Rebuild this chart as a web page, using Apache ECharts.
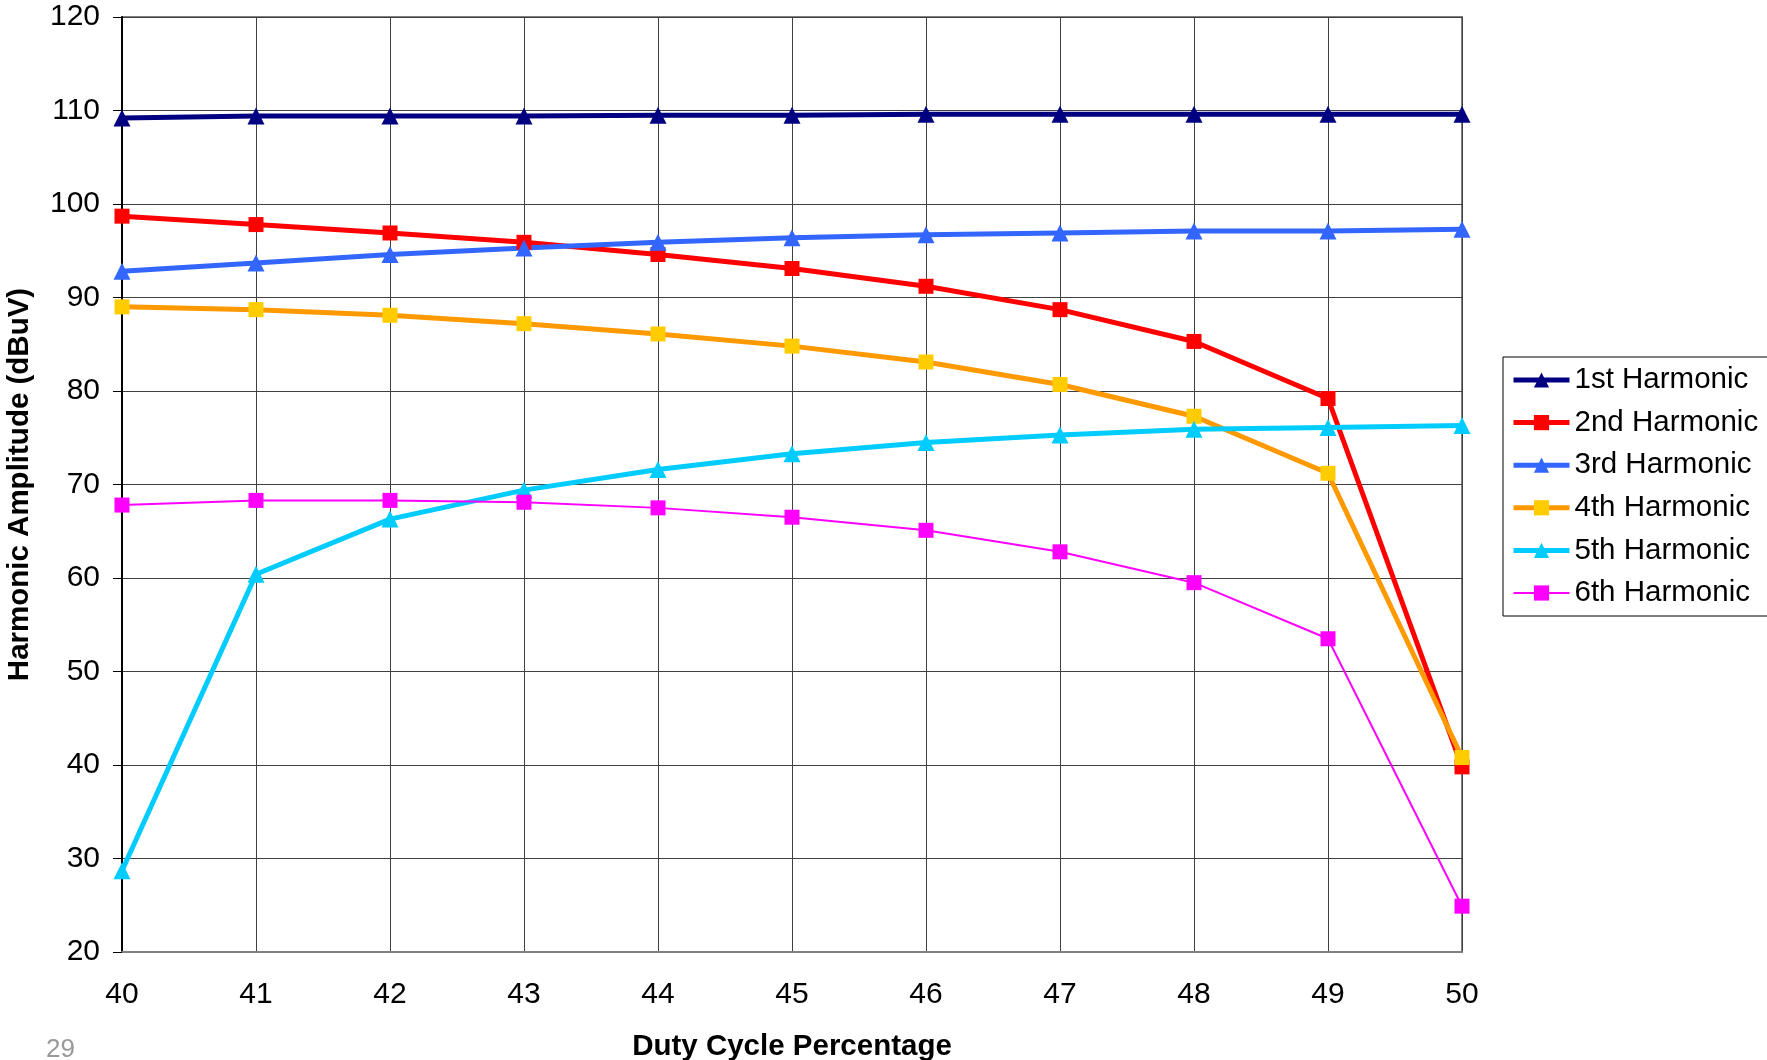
<!DOCTYPE html>
<html>
<head>
    <meta charset="utf-8">
    <title>Harmonic Amplitude vs Duty Cycle</title>
    <style type="text/css">
        html, body { margin: 0; padding: 0; background: #fff; }
        #page { width: 1767px; height: 1060px; }
    </style>
</head>
<body>
<div id="page"></div>
<script src="https://cdn.jsdelivr.net/npm/echarts@6/dist/echarts.min.js"></script>
<script>
    // duty cycle (x) and the six harmonic curves
    var dutyCycle = [40, 41, 42, 43, 44, 45, 46, 47, 48, 49, 50];
    var yTicks = [20, 30, 40, 50, 60, 70, 80, 90, 100, 110, 120];

    var harm1 = [109.2, 109.4, 109.4, 109.4, 109.5, 109.5, 109.6, 109.6, 109.6, 109.6, 109.6];
    var harm2 = [98.7, 97.8, 96.9, 95.9, 94.6, 93.1, 91.2, 88.7, 85.3, 79.2, 39.8];
    var harm3 = [92.8, 93.7, 94.6, 95.3, 95.9, 96.4, 96.7, 96.9, 97.1, 97.1, 97.3];
    var harm4 = [89.0, 88.7, 88.1, 87.2, 86.1, 84.8, 83.1, 80.7, 77.3, 71.2, 40.8];
    var harm5 = [28.7, 60.4, 66.3, 69.4, 71.6, 73.3, 74.5, 75.3, 75.9, 76.1, 76.3];
    var harm6 = [67.8, 68.3, 68.3, 68.1, 67.5, 66.5, 65.1, 62.8, 59.5, 53.5, 24.9];

    var names = ['1st Harmonic', '2nd Harmonic', '3rd Harmonic', '4th Harmonic', '5th Harmonic', '6th Harmonic'];

    (function () {
        var font = '"Liberation Sans", Arial, sans-serif';

        // [data, line colour, marker colour, symbol, line width]
        var styles = [
            [harm1, '#000080', '#000080', 'triangle', 5],
            [harm2, '#ff0000', '#ff0000', 'rect', 5],
            [harm3, '#3366ff', '#3366ff', 'triangle', 5],
            [harm4, '#ff9900', '#ffcc00', 'rect', 5],
            [harm5, '#00ccff', '#00ccff', 'triangle', 5],
            [harm6, '#ff00ff', '#ff00ff', 'rect', 2]
        ];

        function pairs(vals) {
            var out = [];
            for (var i = 0; i < dutyCycle.length; i++) {
                out.push([dutyCycle[i], vals[i]]);
            }
            return out;
        }

        var series = [];
        var legendData = [];
        for (var i = 0; i < styles.length; i++) {
            var s = styles[i];
            series.push({
                name: names[i],
                type: 'line',
                data: pairs(s[0]),
                symbol: s[3],
                symbolSize: s[3] === 'rect' ? 15 : 17,
                lineStyle: {color: s[1], width: s[4]},
                itemStyle: {color: s[2]},
                animation: false
            });
            // legend keeps the same thick line as the series
            legendData.push({
                name: names[i],
                lineStyle: {color: s[1], width: s[4]},
                itemStyle: {color: s[2]}
            });
        }

        var myChart = echarts.init(document.getElementById('page'));
        var option = {
            backgroundColor: '#fff',
            grid: {
                left: 122, right: 305, top: 17, bottom: 108,
                outerBoundsMode: 'none',
                show: true, borderColor: '#808080', borderWidth: 2
            },
            legend: {
                orient: 'vertical',
                left: 1503, top: 357,
                borderColor: '#000', borderWidth: 1,
                padding: [8, 12, 8, 8],
                itemWidth: 56, itemHeight: 19, itemGap: 12.6,
                textStyle: {fontFamily: font, fontSize: 29.5, color: '#000', lineHeight: 30},
                data: legendData
            },
            xAxis: {
                type: 'value',
                min: 40, max: 50, interval: 1,
                name: 'Duty Cycle Percentage',
                nameLocation: 'middle',
                nameGap: 80,
                nameTextStyle: {fontFamily: font, fontSize: 29.5, fontWeight: 'bold', color: '#000'},
                axisLine: {lineStyle: {color: '#808080', width: 2}},
                axisTick: {show: false},
                axisLabel: {fontFamily: font, fontSize: 30, color: '#000', margin: 28},
                splitLine: {show: true, lineStyle: {color: '#404040', width: 1}}
            },
            yAxis: {
                type: 'value',
                min: yTicks[0], max: yTicks[yTicks.length - 1], interval: 10,
                name: 'Harmonic Amplitude (dBuV)',
                nameLocation: 'middle',
                nameGap: 87,
                nameTextStyle: {fontFamily: font, fontSize: 29.5, fontWeight: 'bold', color: '#000'},
                axisLine: {show: true, lineStyle: {color: '#000', width: 2}},
                axisTick: {show: true, length: 9, lineStyle: {color: '#000'}},
                axisLabel: {fontFamily: font, fontSize: 30, color: '#000', margin: 22},
                splitLine: {show: true, lineStyle: {color: '#404040', width: 1}}
            },
            graphic: [{
                type: 'text', left: 46, top: 1037,
                style: {text: '29', fontFamily: font, fontSize: 26, fill: '#999'}
            }],
            series: series
        };
        myChart.setOption(option);
    })();
</script>
</body>
</html>
